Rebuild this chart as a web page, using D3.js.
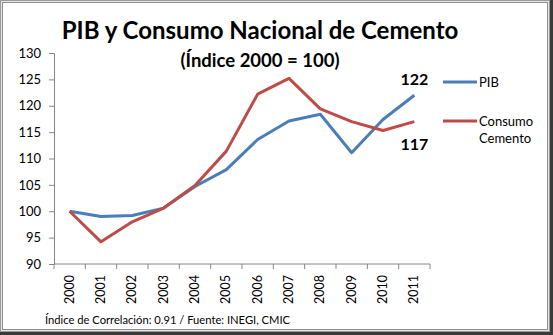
<!DOCTYPE html>
<html>
<head>
<meta charset="utf-8">
<script src="https://cdn.jsdelivr.net/npm/d3@7"></script>
<style>
  body { margin: 0; background: #fff; }
  svg text { font-family: Lato, "Open Sans", sans-serif; fill: #000; }
</style>
</head>
<body>
<div id="chart"></div>
<script>
// index 2000 = 100, GDP vs national cement consumption
const years = ['2000', '2001', '2002', '2003', '2004', '2005', '2006', '2007', '2008', '2009', '2010', '2011'];
const pib = [100, 99.0, 99.2, 100.6, 104.7, 107.9, 113.6, 117.1, 118.4, 111.1, 117.4, 122];
const cemento = [100, 94.2, 98.0, 100.6, 104.9, 111.4, 122.2, 125.2, 119.4, 117.0, 115.3, 117];
const yTicks = [90, 95, 100, 105, 110, 115, 120, 125, 130];

const W = 553, H = 335;
const plot = { left: 54, right: 430, top: 53, bottom: 264 };

const svg = d3.select('#chart').append('svg')
  .attr('width', W)
  .attr('height', H);

// frame with a dark drop edge on the right and bottom
svg.append('rect').attr('x', 0).attr('y', 0).attr('width', W).attr('height', H).attr('fill', '#3a3a3a');
svg.append('rect').attr('x', 0).attr('y', 0).attr('width', W - 3).attr('height', H - 3).attr('fill', '#9a9a9a');
svg.append('rect').attr('x', 1).attr('y', 1).attr('width', W - 5).attr('height', H - 5).attr('fill', '#e6e6e6');
svg.append('rect').attr('x', 2.5).attr('y', 2.5).attr('width', W - 8).attr('height', H - 8)
  .attr('fill', '#fff').attr('stroke', '#8c8c8c').attr('stroke-width', 1);

const x = d3.scaleBand().domain(years).range([plot.left, plot.right]);
const y = d3.scaleLinear().domain([90, 130]).range([plot.bottom, plot.top]);

// y axis
const yAxis = svg.append('g')
  .attr('transform', `translate(${plot.left},0)`)
  .call(d3.axisLeft(y).tickValues(yTicks).tickSize(5).tickPadding(8));
yAxis.select('.domain').attr('stroke', '#868686');
yAxis.selectAll('.tick line').attr('stroke', '#868686');
yAxis.selectAll('.tick text').attr('font-size', 13).attr('font-family', 'Lato, sans-serif');

// x axis: ticks sit on the category boundaries
const xAxis = svg.append('g').attr('transform', `translate(0,${plot.bottom})`);
xAxis.append('line')
  .attr('x1', plot.left).attr('x2', plot.right)
  .attr('stroke', '#868686');
xAxis.selectAll('line.tk')
  .data(years.concat(['end']))
  .enter().append('line')
  .attr('class', 'tk')
  .attr('x1', (d, i) => i < years.length ? x(d) : plot.right)
  .attr('x2', (d, i) => i < years.length ? x(d) : plot.right)
  .attr('y1', 0).attr('y2', 5)
  .attr('stroke', '#868686');
xAxis.selectAll('text')
  .data(years)
  .enter().append('text')
  .attr('transform', d => `translate(${x(d) + x.bandwidth() / 2 + 4},11) rotate(-90)`)
  .attr('text-anchor', 'end')
  .attr('font-size', 12.5)
  .text(d => d);

const line = d3.line()
  .x((d, i) => x(years[i]) + x.bandwidth() / 2)
  .y(d => y(d));

svg.append('path').datum(pib)
  .attr('d', line).attr('fill', 'none')
  .attr('stroke', '#4a7ebb').attr('stroke-width', 3).attr('stroke-linejoin', 'round');
svg.append('path').datum(cemento)
  .attr('d', line).attr('fill', 'none')
  .attr('stroke', '#be4b48').attr('stroke-width', 3).attr('stroke-linejoin', 'round');

// end-of-line value labels
const lastX = x(years[years.length - 1]) + x.bandwidth() / 2;
svg.append('text')
  .attr('x', lastX).attr('y', y(pib[pib.length - 1]) - 10)
  .attr('text-anchor', 'middle').attr('font-size', 16).attr('font-weight', 'bold')
  .text(Math.round(pib[pib.length - 1]));
svg.append('text')
  .attr('x', lastX).attr('y', y(cemento[cemento.length - 1]) + 28)
  .attr('text-anchor', 'middle').attr('font-size', 16).attr('font-weight', 'bold')
  .text(Math.round(cemento[cemento.length - 1]));

// legend
const legend = [
  { name: ['PIB'], color: '#4a7ebb', yPos: 82 },
  { name: ['Consumo', 'Cemento'], color: '#be4b48', yPos: 121 }
];
legend.forEach(l => {
  svg.append('line')
    .attr('x1', 443).attr('x2', 477).attr('y1', l.yPos).attr('y2', l.yPos)
    .attr('stroke', l.color).attr('stroke-width', 3);
  const t = svg.append('text').attr('x', 479).attr('y', l.yPos + 5).attr('font-size', 13);
  l.name.forEach((s, i) => t.append('tspan').attr('x', 479).attr('dy', i ? 17 : 0).text(s));
});

// titles
svg.append('text')
  .attr('x', 260).attr('y', 39)
  .attr('text-anchor', 'middle').attr('font-size', 24).attr('font-weight', 'bold')
  .text('PIB y Consumo Nacional de Cemento');
svg.append('text')
  .attr('x', 260).attr('y', 67)
  .attr('text-anchor', 'middle').attr('font-size', 18.5).attr('font-weight', 'bold')
  .text('(Índice 2000 = 100)');

svg.append('text')
  .attr('x', 45).attr('y', 324)
  .attr('font-size', 11.2)
  .text('Índice de Correlación: 0.91 / Fuente: INEGI, CMIC');
</script>
</body>
</html>
